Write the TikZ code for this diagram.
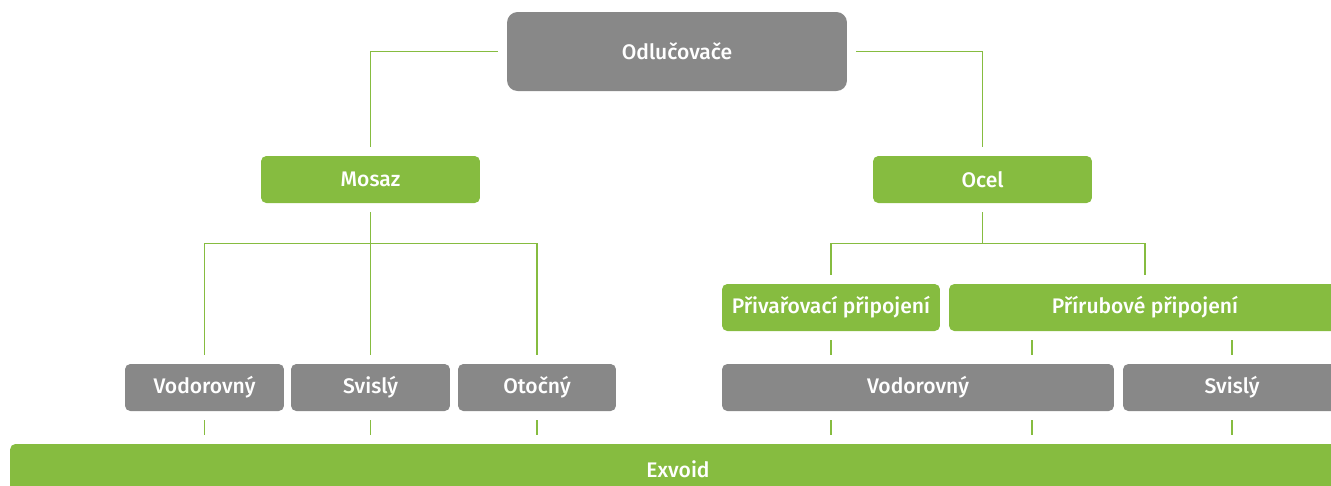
\documentclass[tikz,border=0pt]{standalone}
\usepackage{fontspec}
\setmainfont{Fira Sans}[BoldFont={Fira Sans Medium}]
\usetikzlibrary{positioning}
\definecolor{boxGrey}{RGB}{136,136,136}
\definecolor{boxGreen}{RGB}{134,188,64}
\tikzset{
    every node/.append style={align=center},
    box/.style={rectangle,rounded corners=3pt,text=white,inner sep=0pt,
        minimum height=0.94cm,font=\bfseries\fontsize{12}{14}\selectfont},
    greybox/.style={box,fill=boxGrey},
    greenbox/.style={box,fill=boxGreen},
    link/.style={draw=boxGreen,line width=0.9pt,shorten <=0.18cm,shorten >=0.18cm}
}
\begin{document}
\begin{tikzpicture}[x=0.02cm,y=-0.02cm]
    \useasboundingbox (0,0) rectangle (1331,485);
    \clip (0,0) rectangle (1331,485);

    \node[greybox,minimum width=6.8cm,minimum height=1.58cm,rounded corners=6pt] (odl) at (677,51.5) {Odlučovače};
    \node[greenbox,minimum width=4.38cm] (mosaz) at (370.5,179.5) {Mosaz};
    \node[greenbox,minimum width=4.38cm] (ocel)  at (982.5,179.5) {Ocel};
    \node[greybox,minimum width=3.18cm]  (vodL)  at (204.5,387.5) {Vodorovný};
    \node[greybox,minimum width=3.18cm]  (svisL) at (370.5,387.5) {Svislý};
    \node[greybox,minimum width=3.16cm]  (otoc)  at (537,387.5)   {Otočný};
    \node[greenbox,minimum width=4.36cm] (priv)  at (831,307.5)   {Přivařovací připojení};
    \node[greenbox,minimum width=7.84cm] (prir)  at (1145,307.5)  {Přírubové připojení};
    \node[greybox,minimum width=7.84cm]  (vodR)  at (918,387.5)   {Vodorovný};
    \node[greybox,minimum width=4.36cm]  (svisR) at (1232,387.5)  {Svislý};
    \node[greenbox,minimum width=26.72cm,minimum height=1.0cm] (exvoid) at (678,469) {Exvoid};
    \coordinate (mid) at (1032,0);

    \draw[link] (odl.west) -| (mosaz.north);
    \draw[link] (odl.east) -| (ocel.north);
    \draw[link] (mosaz.south) -- (svisL.north);
    \draw[link] (vodL.north) -- ++(0,-120) -| (otoc.north);
    \draw[link,shorten >=0pt] (ocel.south) -- ++(0,41);
    \draw[link] (priv.north) -- ++(0,-40) -| (prir.north);
    \draw[link] (priv.south) -- (priv.south |- vodR.north);
    \draw[link] (mid |- prir.south) -- (mid |- vodR.north);
    \draw[link] (svisR.north |- prir.south) -- (svisR.north);
    \foreach \n in {vodL,svisL,otoc,svisR}
        \draw[link] (\n.south) -- (\n.south |- exvoid.north);
    \foreach \n in {priv,mid}
        \draw[link] (\n |- vodR.south) -- (\n |- exvoid.north);
\end{tikzpicture}
\end{document}
